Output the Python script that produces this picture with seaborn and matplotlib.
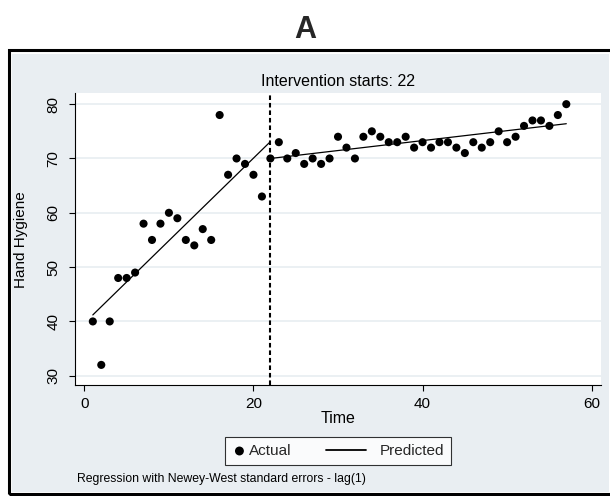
import matplotlib
matplotlib.use('Agg')
import matplotlib.pyplot as plt
import seaborn as sns
import pandas as pd
from matplotlib.patches import Rectangle
from matplotlib.legend_handler import HandlerLine2D

# Observed hand hygiene per time point
time = list(range(1, 58))
hand_hygiene = [40, 32, 40, 48, 48, 49, 58, 55, 58, 60,
                59, 55, 54, 57, 55, 78, 67, 70, 69, 67,
                63, 70, 73, 70, 71, 69, 70, 69, 70, 74,
                72, 70, 74, 75, 74, 73, 73, 74, 72, 73,
                72, 73, 73, 72, 71, 73, 72, 73, 75, 73,
                74, 76, 77, 77, 76, 78, 80]

# Predicted segments (pre / post intervention)
intervention = 22
pre_time = [1, 22]
pre_pred = [41.2, 73.1]
post_time = [22, 57]
post_pred = [70.0, 76.4]

x_ticks = [0, 20, 40, 60]
y_ticks = [30, 40, 50, 60, 70, 80]

bg = '#E9EEF2'
grid = '#E6ECF0'

sns.set_theme(style='white')
plt.rcParams['font.family'] = ['Liberation Sans', 'DejaVu Sans']

df = pd.DataFrame({'Time': time, 'Hand Hygiene': hand_hygiene})

fig = plt.figure(figsize=(6.1, 4.96), dpi=100)
fig.patch.set_facecolor('white')

# graph region (light grey) and outer black frame
fig.add_artist(Rectangle((12 / 610, 1 - 492 / 496), 597 / 610, 438 / 496,
                         transform=fig.transFigure, facecolor=bg, edgecolor='none', zorder=0))
fig.add_artist(Rectangle((8.5 / 610, 1 - 493.5 / 496), 610 / 610, 444 / 496,
                         transform=fig.transFigure, facecolor='none', edgecolor='black',
                         linewidth=2.2, zorder=1))

ax = fig.add_axes([0.1225, 0.2238, 0.8627, 0.5881])
ax.set_facecolor('white')

for yv in y_ticks:
    ax.axhline(yv, color=grid, linewidth=1.1, zorder=0)

sns.scatterplot(data=df, x='Time', y='Hand Hygiene', color='black', s=34,
                edgecolor='none', label='Actual', legend=False, ax=ax, zorder=3)
sns.lineplot(x=pre_time, y=pre_pred, color='black', linewidth=0.9,
             label='Predicted', legend=False, ax=ax, zorder=2)
sns.lineplot(x=post_time, y=post_pred, color='black', linewidth=0.9,
             legend=False, ax=ax, zorder=2)
ax.axvline(intervention, color='black', linestyle=(0, (2.2, 1.4)), linewidth=1.5, zorder=2)

ax.set_xlim(-1.14, 61.1)
ax.set_ylim(28.3, 82.0)
ax.set_xticks(x_ticks)
ax.set_yticks(y_ticks)

for side in ['top', 'right']:
    ax.spines[side].set_visible(False)
for side in ['left', 'bottom']:
    ax.spines[side].set_color('black')
    ax.spines[side].set_linewidth(0.8)

ax.tick_params(axis='both', which='major', direction='out', length=4.3, width=0.8,
               color='black', labelsize=11, labelcolor='black', bottom=True, left=True)
ax.tick_params(axis='x', pad=4)
ax.tick_params(axis='y', pad=6, labelrotation=90)
plt.setp(ax.get_yticklabels(), va='center')

ax.set_xlabel('Time', fontsize=11.5, color='black')
ax.set_ylabel('Hand Hygiene', fontsize=11, color='black')
ax.xaxis.set_label_coords(0.5, -0.09)
ax.yaxis.set_label_coords(-0.088, 0.5)
ax.set_title('Intervention starts: ' + str(intervention), fontsize=11.5, pad=5, color='black')


# predicted line in the legend is longer than the marker slot
class LongLine(HandlerLine2D):
    def create_artists(self, legend, orig_handle, xdescent, ydescent, width, height, fontsize, trans):
        artists = super().create_artists(legend, orig_handle, xdescent, ydescent,
                                         width, height, fontsize, trans)
        y0 = artists[0].get_ydata()[0]
        artists[0].set_data([width - 3.35 * fontsize, width - 0.75 * fontsize], [y0, y0])
        artists[0].set_linewidth(1.3)
        return artists


handles, labels = ax.get_legend_handles_labels()
leg = ax.legend(handles, labels, ncol=2, loc='center',
                bbox_to_anchor=(338 / 610, 1 - 451 / 496), bbox_transform=fig.transFigure,
                fontsize=11, frameon=True, fancybox=False, edgecolor='black',
                handlelength=1.0, handletextpad=0.15, columnspacing=4.6,
                borderpad=0.45, markerscale=1.1,
                handler_map={handles[1]: LongLine()})
leg.get_frame().set_linewidth(0.8)
leg.get_frame().set_facecolor('white')

fig.text(0.5, 1 - 30 / 496, 'A', ha='center', va='center', fontsize=22, fontweight='bold')
fig.text(77 / 610, 1 - 479 / 496, 'Regression with Newey-West standard errors - lag(1)',
         ha='left', va='center', fontsize=8.8, color='black')

fig.savefig('out.png', dpi=100)
